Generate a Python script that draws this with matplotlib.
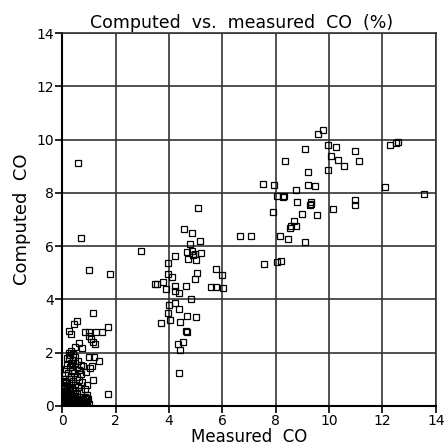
import matplotlib
matplotlib.use("Agg")
import matplotlib.pyplot as plt

# Measured vs computed CO (%)
# low cluster (idle / near zero)
measured_low = [1.17, 0.55, 0.45, 0.26, 0.35, 0.86, 1.02, 1.27, 1.50, 1.70, 0.99, 1.07, 1.17, 1.24,
                0.65, 0.49, 0.76, 1.39, 1.19, 1.02, 1.13, 1.05, 0.89, 1.15, 0.92, 0.84, 1.70,
                0.35, 0.42, 0.30, 0.50, 0.25, 0.40, 0.60, 0.33, 0.20, 0.48, 0.70, 0.28, 0.55, 0.15,
                0.38, 0.65, 0.80, 0.22, 0.45, 0.70, 0.12, 0.33, 0.55, 0.25, 0.42, 0.62, 0.15, 0.35,
                0.75, 0.50, 0.20, 0.30, 0.60, 0.10, 0.42, 0.70, 0.25, 0.15, 0.05, 0.35, 0.55, 0.20,
                0.08, 0.30, 0.45, 0.12, 0.25, 0.40, 0.60, 0.75, 0.90, 0.05, 0.18, 0.32, 0.50, 0.65,
                0.80, 0.95, 0.10, 0.25, 0.40, 0.55, 0.70, 0.85, 1.00, 0.02, 0.15, 0.30, 0.45, 0.60,
                0.75, 0.90, 0.08, 0.18, 0.12, 0.05, 0.30, 0.50, 0.95, 0.85, 0.65, 0.02, 0.10, 0.18,
                0.27, 0.38,
                0.03, 0.12, 0.22, 0.35, 0.48, 0.58, 0.68, 0.78, 0.88, 0.98, 0.07, 0.20, 0.33, 0.44,
                0.52, 0.64, 0.82, 0.93, 0.04, 0.14, 0.26, 0.38, 0.10, 0.22, 0.34]
computed_low = [3.48, 3.17, 3.08, 2.82, 2.71, 2.77, 2.77, 2.78, 2.79, 2.98, 2.64, 2.50, 2.39, 2.33,
                2.38, 2.23, 2.17, 1.70, 1.83, 1.83, 1.51, 1.41, 1.29, 0.98, 0.79, 0.63, 0.44,
                2.05, 1.95, 1.90, 1.85, 1.78, 1.72, 1.70, 1.62, 1.55, 1.60, 1.55, 1.45, 1.45, 1.38,
                1.35, 1.35, 1.50, 1.25, 1.22, 1.20, 1.15, 1.10, 1.08, 1.00, 0.95, 0.98, 0.90, 0.85,
                0.90, 0.80, 0.75, 0.68, 0.70, 0.62, 0.60, 0.55, 0.50, 0.45, 0.40, 0.40, 0.45, 0.35,
                0.30, 0.28, 0.25, 0.20, 0.18, 0.15, 0.20, 0.25, 0.30, 0.12, 0.10, 0.08, 0.10, 0.08,
                0.12, 0.15, 0.05, 0.03, 0.02, 0.04, 0.02, 0.05, 0.08, 0.02, 0.00, 0.00, 0.00, 0.00,
                0.00, 0.00, 0.55, 0.62, 0.85, 0.75, 0.55, 0.60, 0.40, 0.35, 0.35, 0.20, 1.00, 1.80,
                2.00, 1.55,
                0.22, 0.28, 0.32, 0.22, 0.30, 0.25, 0.18, 0.22, 0.20, 0.25, 0.38, 0.45, 0.50, 0.35,
                0.15, 0.12, 0.06, 0.05, 0.48, 0.55, 0.60, 0.30, 0.70, 0.10, 0.14]

# middle cluster
measured_mid = [5.09, 4.57, 4.88, 5.17, 4.79, 2.96, 4.21, 4.67, 4.86, 4.98, 5.21, 4.73, 5.02, 4.90,
                3.97, 3.97, 4.13, 5.06, 4.99, 5.77, 5.98, 6.03, 5.58, 5.77, 3.49, 3.55, 3.77, 3.90,
                4.24, 4.22, 4.38, 4.64, 4.83, 4.23, 4.01, 4.36, 3.98, 4.66, 5.03, 3.70, 4.04, 4.41,
                4.63, 4.67, 4.51, 4.33, 4.42, 4.36, 6.67, 7.08]
computed_mid = [7.44, 6.64, 6.48, 6.18, 6.09, 5.82, 5.64, 5.77, 5.83, 5.70, 5.75, 5.51, 5.48, 5.67,
                5.36, 4.95, 4.84, 4.98, 4.78, 5.14, 4.93, 4.44, 4.47, 4.48, 4.59, 4.57, 4.64, 4.38,
                4.50, 4.30, 4.23, 4.49, 4.02, 3.87, 3.80, 3.65, 3.50, 3.38, 3.33, 3.12, 3.24, 3.14,
                2.83, 2.77, 2.40, 2.34, 2.10, 1.24, 6.38, 6.38]

# high cluster
measured_high = [9.60, 9.78, 9.95, 10.26, 9.11, 10.97, 10.07, 10.35, 10.55, 11.12, 9.96, 8.34, 9.20,
                 12.28, 12.52, 12.58, 7.53, 7.93, 9.20, 9.49, 8.75, 12.10, 13.55, 8.05, 8.27, 8.31,
                 8.80, 9.34, 9.29, 9.33, 10.97, 10.97, 10.16, 7.89, 8.98, 9.54, 8.69, 8.58, 8.75,
                 8.54, 8.15, 8.46, 9.11, 7.57, 8.05, 8.19]
computed_high = [10.20, 10.37, 9.79, 9.73, 9.63, 9.58, 9.38, 9.25, 9.00, 9.18, 8.86, 9.20, 8.77,
                 9.81, 9.88, 9.90, 8.32, 8.28, 8.30, 8.26, 8.10, 8.22, 7.95, 7.87, 7.83, 7.87,
                 7.65, 7.65, 7.53, 7.58, 7.73, 7.53, 7.39, 7.28, 7.21, 7.16, 6.94, 6.74, 6.74,
                 6.68, 6.37, 6.27, 6.16, 5.33, 5.40, 5.44]

# scattered outliers
measured_out = [0.60, 0.72, 1.00, 1.80]
computed_out = [9.12, 6.31, 5.09, 4.97]

measured = measured_low + measured_mid + measured_high + measured_out
computed = computed_low + computed_mid + computed_high + computed_out

fig = plt.figure(figsize=(4.47, 4.48), dpi=100)
ax = fig.add_axes([0.139, 0.094, 0.836, 0.832])

ax.plot(measured, computed, linestyle="none", marker="s", markersize=4.3,
        markerfacecolor="none", markeredgecolor="black", markeredgewidth=0.9, zorder=3)

ax.set_xlim(0, 14)
ax.set_ylim(0, 14)
ax.set_xticks(range(0, 15, 2))
ax.set_yticks(range(0, 15, 2))
ax.grid(True, color="#333333", linewidth=1.2)
for side in ["top", "right"]:
    ax.spines[side].set_color("#333333")
    ax.spines[side].set_linewidth(1.2)
for side in ["left", "bottom"]:
    ax.spines[side].set_linewidth(1.5)
ax.tick_params(direction="out", length=5, width=1.2, labelsize=10, pad=1)

ax.set_title("Computed  vs.  measured  CO  (%)", fontsize=12.5, pad=4, x=0.48)
ax.set_xlabel("Measured  CO", fontsize=12, labelpad=0)
ax.set_ylabel("Computed  CO", fontsize=13, labelpad=4)

fig.savefig("out.png", dpi=100)
